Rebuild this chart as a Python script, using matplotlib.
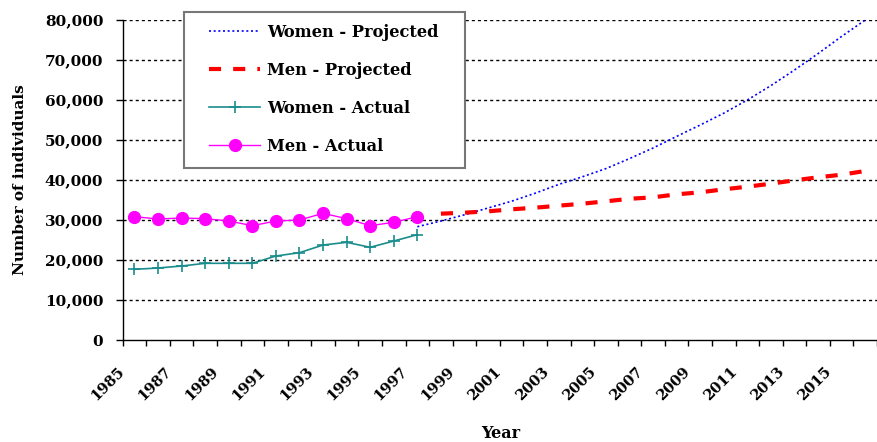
import matplotlib
matplotlib.use("Agg")
import matplotlib.pyplot as plt
import matplotlib.transforms as mtransforms
from matplotlib.patches import Rectangle
import numpy as np
from matplotlib.ticker import FuncFormatter, FixedLocator

# ---- data ----
years = list(range(1985, 2017))
actual_years = list(range(1985, 1998))
men_actual = [30830, 30250, 30500, 30330, 29750, 28580, 29750, 30000, 31670, 30330, 28580, 29420, 30830]
women_actual = [17670, 18000, 18500, 19170, 19170, 19170, 21000, 21830, 23750, 24420, 23170, 24750, 26330]
women_proj_years = list(range(1997, 2017))
women_projected = [28330, 29750, 31300, 33000, 34700, 36700, 38900, 40800, 42850, 45350,
                   48000, 50900, 53750, 56700, 60000, 63600, 67500, 71600, 75900, 80000]
men_proj_years = list(range(1998, 2017))
men_projected = [31580, 31830, 32170, 32670, 33080, 33580, 34080, 34670, 35300, 35670,
                 36420, 36920, 37670, 38330, 39080, 39920, 40670, 41330, 42250]
tick_years = list(range(1985, 2016, 2))
y_ticks = list(range(0, 80001, 10000))

FONT = "DejaVu Serif"
plt.rcParams["font.family"] = [FONT]
plt.rcParams["font.weight"] = "bold"

fig = plt.figure(figsize=(8.78, 4.42), dpi=100)
W, H = 878, 442
ax = fig.add_axes([122.7 / W, 1 - 340 / H, (877 - 122.7) / W, 320 / H])

def pos(yrs):
    return [y - 1985 for y in yrs]

# grid lines
for v in y_ticks[1:]:
    ax.axhline(v, color="black", lw=1.0, ls=(0, (2.2, 2.2)), zorder=1)

h1, = ax.plot(pos(women_proj_years), women_projected, color="#0000FF", lw=1.2,
              ls=(0, (1.2, 1.6)), label="Women - Projected", zorder=3, clip_on=False)
h2, = ax.plot(pos(men_proj_years), men_projected, color="#FF0000", lw=3.0,
              ls=(0, (2.9, 2.9)), label="Men - Projected", zorder=3)
h3, = ax.plot(pos(actual_years), women_actual, color="#1A8C8C", lw=1.2, marker="+",
              markersize=9, markeredgewidth=1.2, label="Women - Actual", zorder=4)
h4, = ax.plot(pos(actual_years), men_actual, color="#FF00FF", lw=1.0, marker="o",
              markersize=8.5, label="Men - Actual", zorder=4)

ax.set_xlim(-0.5, len(years) - 0.5)
ax.set_ylim(0, 80000)

# axes styling
for s in ["top", "right"]:
    ax.spines[s].set_visible(False)
for s in ["left", "bottom"]:
    ax.spines[s].set_linewidth(1.0)
    ax.spines[s].set_color("black")

ax.set_yticks(y_ticks)
ax.yaxis.set_major_formatter(FuncFormatter(lambda v, p: f"{int(v):,}"))
ax.tick_params(axis="y", direction="out", length=5, width=1, pad=9, labelsize=11)

ax.set_xticks([y - 1985 - 0.5 for y in tick_years])
ax.set_xticklabels([str(y) for y in tick_years])
ax.xaxis.set_minor_locator(FixedLocator(np.arange(-0.5, len(years), 1.0)))
ax.tick_params(axis="x", which="both", direction="out", length=4.5, width=1)
ax.tick_params(axis="x", which="major", pad=13, labelsize=10.5)
shift = mtransforms.ScaledTranslation(-4 / 72, 0, fig.dpi_scale_trans)
for lab in ax.get_xticklabels():
    lab.set_rotation(45)
    lab.set_ha("right")
    lab.set_va("top")
    lab.set_rotation_mode("anchor")
    lab.set_transform(lab.get_transform() + shift)

for lab in ax.get_yticklabels() + ax.get_xticklabels():
    lab.set_fontweight("bold")

fig.text(20 / W, 1 - 180 / H, "Number of individuals", rotation=90, ha="center",
         va="center", fontsize=11, fontweight="bold")
fig.text(501 / W, 1 - 433 / H, "Year", ha="center", va="center",
         fontsize=11.5, fontweight="bold")

# legend frame (drawn separately, above axes content)
frame = Rectangle((184 / W, 1 - 168 / H), (465 - 184) / W, (168 - 12) / H,
                  transform=fig.transFigure, facecolor="white", edgecolor="#777777",
                  lw=1.5, zorder=4)
fig.add_artist(frame)

leg = fig.legend([h1, h2, h3, h4],
                 ["Women - Projected", "Men - Projected", "Women - Actual", "Men - Actual"],
                 loc="upper left", bbox_to_anchor=(209 / W, 1 - 24 / H),
                 bbox_transform=fig.transFigure, borderaxespad=0, borderpad=0,
                 frameon=False,
                 prop={"family": FONT, "weight": "bold", "size": 11.7},
                 handlelength=3.15, handletextpad=0.4, labelspacing=1.29)
leg.set_zorder(5)

fig.savefig("out.png", dpi=100)
